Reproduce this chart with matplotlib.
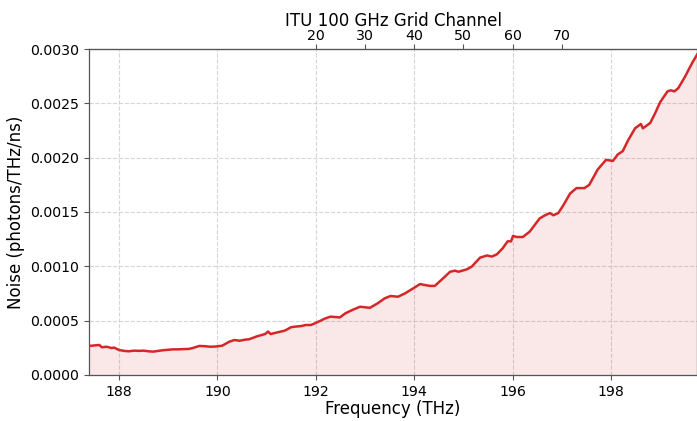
import matplotlib
matplotlib.use("Agg")
import matplotlib.pyplot as plt

freq_thz = [187.39, 187.5, 187.6, 187.65, 187.75, 187.85, 187.9, 188.0, 188.1, 188.2,
            188.3, 188.4, 188.5, 188.6, 188.7, 188.8, 188.9, 189.0, 189.1, 189.2,
            189.3, 189.42, 189.5, 189.63, 189.75, 189.85, 189.97, 190.1, 190.24, 190.35,
            190.45, 190.56, 190.64, 190.8, 190.97, 191.03, 191.08, 191.2, 191.37, 191.5,
            191.58, 191.7, 191.8, 191.9, 191.98, 192.1, 192.19, 192.3, 192.49, 192.6,
            192.75, 192.9, 193.1, 193.26, 193.4, 193.52, 193.67, 193.81, 193.98, 194.12,
            194.25, 194.32, 194.42, 194.59, 194.73, 194.83, 194.9, 195.07, 195.17, 195.34,
            195.48, 195.58, 195.68, 195.8, 195.9, 195.97, 196.01, 196.08, 196.21, 196.35,
            196.55, 196.66, 196.76, 196.83, 196.93, 197.03, 197.17, 197.3, 197.46, 197.56,
            197.73, 197.9, 198.04, 198.14, 198.24, 198.35, 198.49, 198.61, 198.65, 198.8,
            198.9, 199.0, 199.15, 199.22, 199.29, 199.37, 199.5, 199.65, 199.78]

noise = [0.000267, 0.000272, 0.000276, 0.000255, 0.000260, 0.000248, 0.000252, 0.000230, 0.000222, 0.000218,
         0.000224, 0.000222, 0.000224, 0.000218, 0.000215, 0.000222, 0.000228, 0.000232, 0.000236, 0.000236,
         0.000238, 0.000240, 0.000248, 0.000267, 0.000265, 0.000260, 0.000262, 0.000270, 0.000306, 0.000322,
         0.000315, 0.000325, 0.000328, 0.000355, 0.000377, 0.000400, 0.000377, 0.000390, 0.000408, 0.000440,
         0.000445, 0.000450, 0.000460, 0.000460, 0.000475, 0.000500, 0.000520, 0.000537, 0.000530, 0.000567,
         0.000600, 0.000628, 0.000618, 0.000660, 0.000705, 0.000727, 0.000720, 0.000750, 0.000797, 0.000837,
         0.000825, 0.000820, 0.000820, 0.000890, 0.000950, 0.000960, 0.000950, 0.000972, 0.000997, 0.001080,
         0.001100, 0.001090, 0.001110, 0.001166, 0.001230, 0.001230, 0.001280, 0.001270, 0.001270, 0.001320,
         0.001440, 0.001470, 0.001490, 0.001470, 0.001490, 0.001560, 0.001670, 0.001720, 0.001720, 0.001750,
         0.001890, 0.001980, 0.001970, 0.002030, 0.002060, 0.002160, 0.002270, 0.002310, 0.002270, 0.002320,
         0.002410, 0.002510, 0.002610, 0.002620, 0.002610, 0.002640, 0.002740, 0.002870, 0.002970]

yticks = [0.0, 0.0005, 0.0010, 0.0015, 0.0020, 0.0025, 0.0030]
xticks = [188, 190, 192, 194, 196, 198]
channel_ticks = [20, 30, 40, 50, 60, 70]

red = "#d62728"

fig = plt.figure(figsize=(6.97, 4.21), dpi=100)
ax = fig.add_axes([0.1277, 0.1093, 0.8723, 0.7743])

ax.plot(freq_thz, noise, color=red, lw=1.8, zorder=3)
ax.fill_between(freq_thz, noise, 0, color=red, alpha=0.11, lw=0, zorder=2)

ax.set_xlim(187.39, 199.75)
ax.set_ylim(0, 0.003)
ax.set_xticks(xticks)
ax.set_yticks(yticks)
ax.set_yticklabels([f"{v:.4f}" for v in yticks])
ax.tick_params(labelsize=10.2, color="#555555")
ax.tick_params(axis='y', pad=3.5)
ax.grid(True, ls="--", color="#cccccc", lw=0.8, alpha=0.8)
ax.set_axisbelow(True)
for s in ax.spines.values():
    s.set_color("#555555")
    s.set_linewidth(0.9)

ax.set_xlabel("Frequency (THz)", fontsize=12, labelpad=1)
ax.set_ylabel("Noise (photons/THz/ns)", fontsize=12, labelpad=4)

sec = ax.secondary_xaxis('top', functions=(lambda f: (f - 190.0) * 10.0,
                                           lambda c: 190.0 + c / 10.0))
sec.set_xticks(channel_ticks)
sec.tick_params(labelsize=10.2, color="#555555", pad=1)
sec.set_xlabel("ITU 100 GHz Grid Channel", fontsize=12, labelpad=2)
sec.spines['top'].set_color("#555555")

fig.savefig("out.png", dpi=100)
